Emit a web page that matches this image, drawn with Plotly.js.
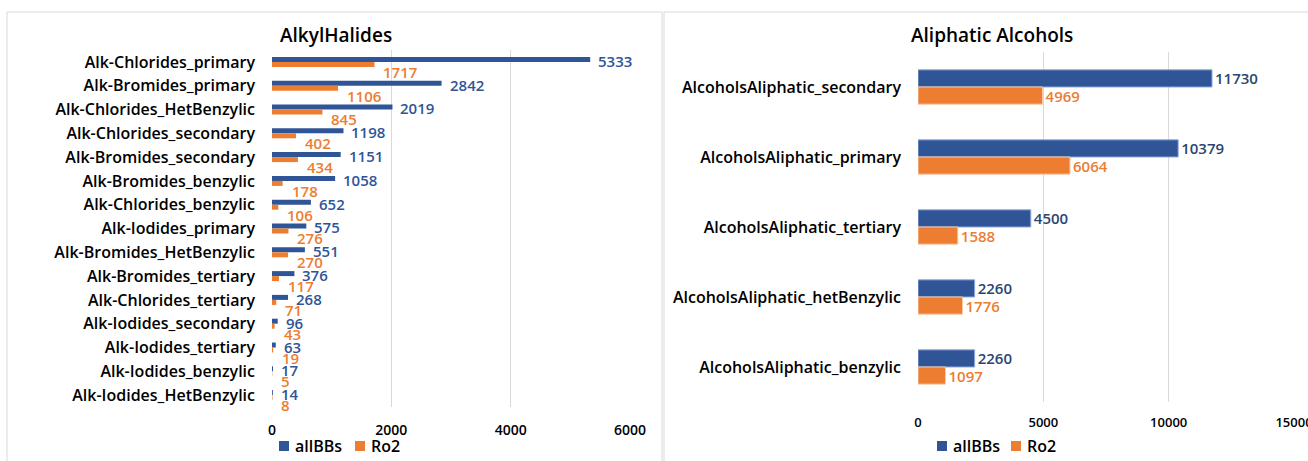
<!DOCTYPE html>
<html>
<head>
<meta charset="utf-8">
<script src="https://cdn.plot.ly/plotly-3.0.1.min.js"></script>
<style>html,body{margin:0;padding:0;background:#fff;}#chart{width:1308px;height:461px;}</style>
</head>
<body>
<div id="chart"></div>
<script>
// ---- Data: AlkylHalides ----
const halideCategories = [
  "Alk-Chlorides_primary", "Alk-Bromides_primary", "Alk-Chlorides_HetBenzylic",
  "Alk-Chlorides_secondary", "Alk-Bromides_secondary", "Alk-Bromides_benzylic",
  "Alk-Chlorides_benzylic", "Alk-Iodides_primary", "Alk-Bromides_HetBenzylic",
  "Alk-Bromides_tertiary", "Alk-Chlorides_tertiary", "Alk-Iodides_secondary",
  "Alk-Iodides_tertiary", "Alk-Iodides_benzylic", "Alk-Iodides_HetBenzylic"
];
const halideAllBBs = [5333, 2842, 2019, 1198, 1151, 1058, 652, 575, 551, 376, 268, 96, 63, 17, 14];
const halideRo2 = [1717, 1106, 845, 402, 434, 178, 106, 276, 270, 117, 71, 43, 19, 5, 8];
const halideTicks = [0, 2000, 4000, 6000];
const halideTickText = ["0", "2000", "4000", "6000"];

// ---- Data: Aliphatic Alcohols ----
const alcoholCategories = [
  "AlcoholsAliphatic_secondary", "AlcoholsAliphatic_primary", "AlcoholsAliphatic_tertiary",
  "AlcoholsAliphatic_hetBenzylic", "AlcoholsAliphatic_benzylic"
];
const alcoholAllBBs = [11730, 10379, 4500, 2260, 2260];
const alcoholRo2 = [4969, 6064, 1588, 1776, 1097];
const alcoholTicks = [0, 5000, 10000, 15000];
const alcoholTickText = ["0", "5000", "10000", "15000"];

const seriesNames = ["allBBs", "Ro2"];

const BLUE = "#2F5597";
const NAVY = "#2B4570";
const ORANGE = "#ED7D31";
const FONT = "'Open Sans', 'Liberation Sans', sans-serif";
const W = 1308, H = 461;
const px = x => x / W;
const py = y => 1 - y / H;

const valFont = (c, s) => ({color: c, size: s, family: FONT, weight: 600});

const WL = 0.21;   // bar thickness (category units), left chart
const WR = 0.245;  // bar thickness, right chart

const traces = [
  {type: "bar", orientation: "h", name: seriesNames[0], y: halideCategories, x: halideAllBBs,
   width: WL, offset: -WL, marker: {color: BLUE}, xaxis: "x", yaxis: "y", showlegend: false},
  {type: "bar", orientation: "h", name: seriesNames[1], y: halideCategories, x: halideRo2,
   width: WL, offset: 0, marker: {color: ORANGE}, xaxis: "x", yaxis: "y", showlegend: false},
  {type: "bar", orientation: "h", name: seriesNames[0], y: alcoholCategories, x: alcoholAllBBs,
   width: WR, offset: -WR, text: alcoholAllBBs.map(String), textposition: "outside",
   cliponaxis: false, constraintext: "none", textfont: valFont(NAVY, 15),
   marker: {color: BLUE, line: {color: "#8FAADC", width: 1}}, xaxis: "x2", yaxis: "y2", showlegend: false},
  {type: "bar", orientation: "h", name: seriesNames[1], y: alcoholCategories, x: alcoholRo2,
   width: WR, offset: 0, text: alcoholRo2.map(String), textposition: "outside",
   cliponaxis: false, constraintext: "none", textfont: valFont(ORANGE, 15),
   marker: {color: ORANGE, line: {color: "#F8CBAD", width: 1}}, xaxis: "x2", yaxis: "y2", showlegend: false}
];

// value labels of the left chart, placed like the original (blue slightly up, orange below)
const annotations = [];
halideCategories.forEach((c, i) => {
  annotations.push({xref: "x", yref: "y", x: halideAllBBs[i], y: c, text: String(halideAllBBs[i]),
    showarrow: false, xanchor: "left", yanchor: "middle", xshift: 6, yshift: 1,
    font: valFont(BLUE, 15)});
  annotations.push({xref: "x", yref: "y", x: halideRo2[i], y: c, text: String(halideRo2[i]),
    showarrow: false, xanchor: "left", yanchor: "middle", xshift: 7, yshift: -10,
    font: valFont(ORANGE, 15)});
});

// titles
annotations.push(
  {text: "AlkylHalides", x: px(336), y: py(35), xref: "paper", yref: "paper", showarrow: false,
   xanchor: "center", yanchor: "middle", font: {family: FONT, size: 19, color: "#000", weight: 600}},
  {text: "Aliphatic Alcohols", x: px(992), y: py(35), xref: "paper", yref: "paper", showarrow: false,
   xanchor: "center", yanchor: "middle", font: {family: FONT, size: 19, color: "#000", weight: 600}}
);

// legends (coloured square + series name)
const legendItems = [
  {x: 279, color: BLUE, name: seriesNames[0]}, {x: 355, color: ORANGE, name: seriesNames[1]},
  {x: 937, color: BLUE, name: seriesNames[0]}, {x: 1011, color: ORANGE, name: seriesNames[1]}
];
const shapes = [
  {type: "rect", xref: "paper", yref: "paper", x0: px(7), x1: px(662), y0: -0.05, y1: py(12),
   line: {color: "#D9D9D9", width: 1}, fillcolor: "rgba(0,0,0,0)", layer: "below"},
  {type: "rect", xref: "paper", yref: "paper", x0: px(664), x1: 1.05, y0: -0.05, y1: py(12),
   line: {color: "#D9D9D9", width: 1}, fillcolor: "rgba(0,0,0,0)", layer: "below"}
];
legendItems.forEach(it => {
  shapes.push({type: "rect", xref: "paper", yref: "paper", x0: px(it.x), x1: px(it.x + 10),
    y0: py(451), y1: py(441), fillcolor: it.color, line: {width: 0}});
  annotations.push({text: it.name, x: px(it.x + 14), y: py(446), xref: "paper", yref: "paper",
    showarrow: false, xanchor: "left", yanchor: "middle",
    font: {family: FONT, size: 16, color: "#000", weight: 600}});
});

const gridColor = "#D9D9D9";
const catFont = {family: FONT, size: 16, color: "#000", weight: 600};

const layout = {
  width: W, height: H,
  margin: {l: 0, r: 0, t: 0, b: 0},
  paper_bgcolor: "#fff", plot_bgcolor: "#fff",
  barmode: "overlay", showlegend: false,
  font: {family: FONT},
  xaxis: {domain: [px(272), px(630)], range: [0, 6000], tickvals: halideTicks, ticktext: halideTickText,
    showgrid: true, gridcolor: gridColor, zeroline: false, showline: false, ticklabeloverflow: "allow",
    tickfont: {family: FONT, size: 14, color: "#000", weight: 600}, ticks: "", ticklabelstandoff: 13,
    anchor: "y", fixedrange: true},
  yaxis: {domain: [py(407), py(50)], type: "category", categoryorder: "array", categoryarray: halideCategories,
    range: [halideCategories.length - 0.5, -0.5], autorange: false,
    tickfont: catFont, ticks: "", ticklabelstandoff: 16, showgrid: false, showline: false,
    anchor: "x", fixedrange: true},
  xaxis2: {domain: [px(918), px(1294)], range: [0, 15000], tickvals: alcoholTicks, ticktext: alcoholTickText,
    showgrid: true, gridcolor: gridColor, zeroline: false, showline: false, ticklabeloverflow: "allow",
    tickfont: {family: FONT, size: 13, color: "#000", weight: 600}, ticks: "", ticklabelstandoff: 11,
    anchor: "y2", fixedrange: true},
  yaxis2: {domain: [py(402), py(52)], type: "category", categoryorder: "array", categoryarray: alcoholCategories,
    range: [alcoholCategories.length - 0.5, -0.5], autorange: false,
    tickfont: catFont, ticks: "", ticklabelstandoff: 16, showgrid: false, showline: false,
    anchor: "x2", fixedrange: true},
  annotations: annotations,
  shapes: shapes
};

Plotly.newPlot("chart", traces, layout, {displayModeBar: false, staticPlot: true});
</script>
</body>
</html>
